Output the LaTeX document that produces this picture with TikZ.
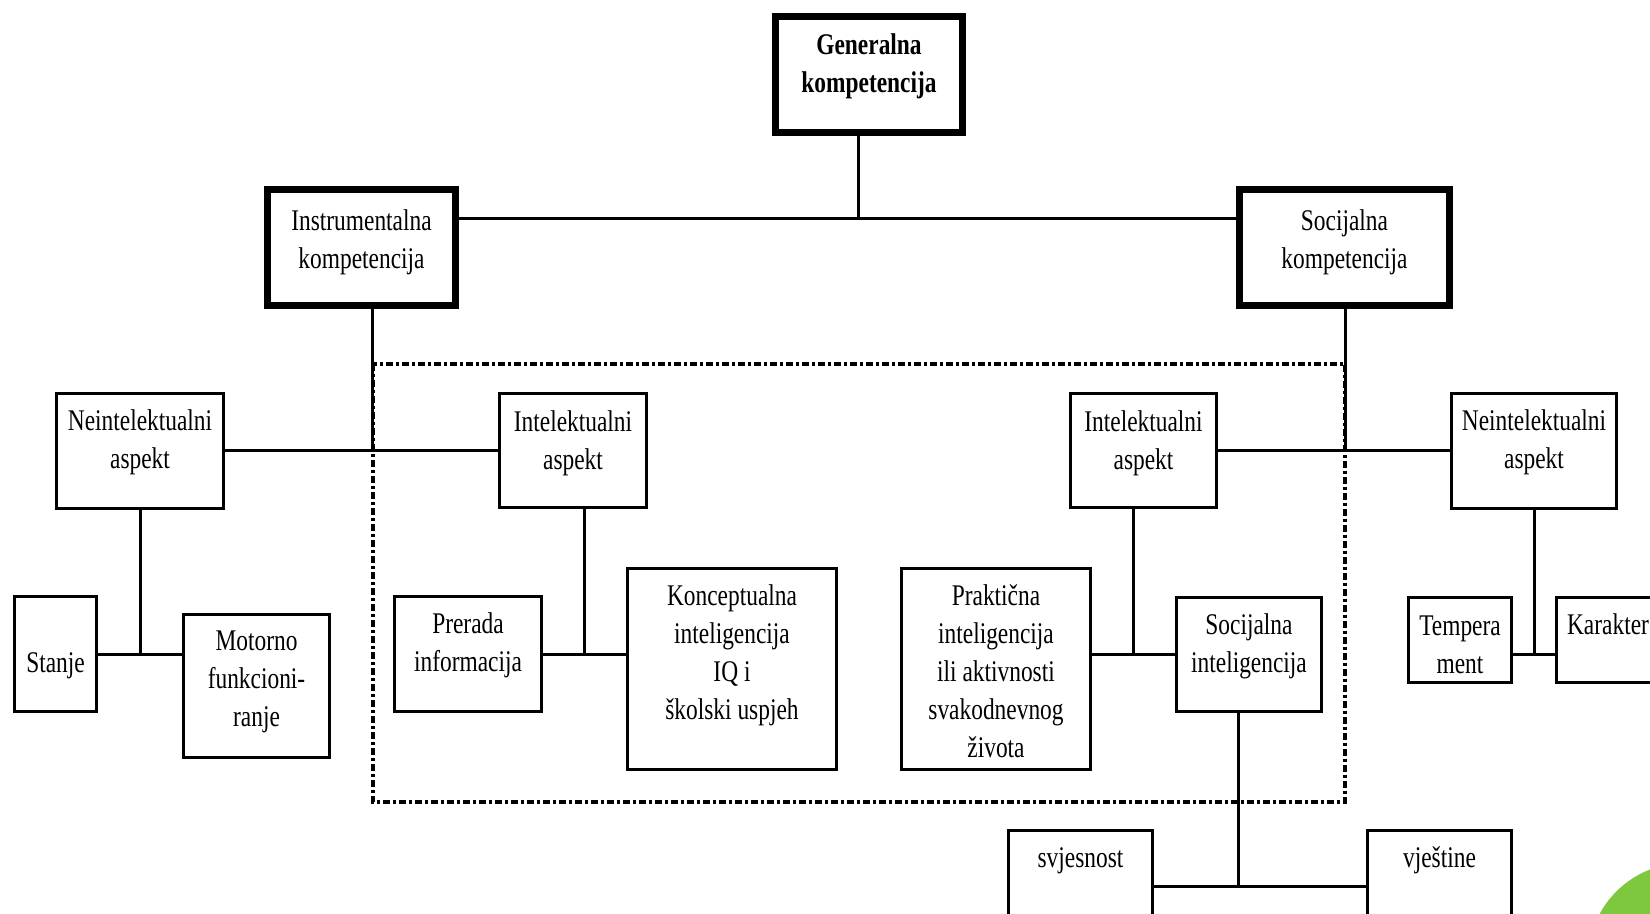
\documentclass[tikz,border=0pt]{standalone}
\usepackage{fontspec}
\setmainfont{Liberation Serif}[FakeStretch=0.78]
\usepackage{tikz}
\usetikzlibrary{calc}
\definecolor{leafgreen}{RGB}{125,200,60}
\tikzstyle{line} = [line width=1.5pt]
\tikzstyle{box} = [rectangle, draw=black, line width=1.5pt, inner sep=0pt]
\tikzstyle{topbox} = [rectangle, draw=black, line width=3.5pt, inner sep=0pt, minimum height=58pt]
\tikzstyle{txt} = [anchor=north, align=center, inner xsep=0pt, inner ysep=8.7pt, font=\fontsize{15}{19}\selectfont, execute at begin node=\strut]
\tikzstyle{onetxt} = [txt, inner ysep=5.6pt]
\tikzstyle{toptxt} = [txt, inner ysep=11.8pt]

\tikzstyle{frame} = [line width=2pt, dash pattern=on 3.5pt off 1.5pt on 1.5pt off 1.5pt]

\begin{document}
\begin{tikzpicture}[x=0.5pt, y=-0.5pt]
\useasboundingbox (0,0) rectangle (1650,914);
\clip (0,0) rectangle (1650,914);

% top level
\node(gen)[topbox, minimum width=93.5pt, label={[toptxt, inner ysep=9.9pt, font=\fontsize{15}{19}\selectfont\bfseries]north:Generalna\\kompetencija}] at (869,74.5) {};
\node(instr)[topbox, minimum width=94pt, label={[toptxt]north:Instrumentalna\\kompetencija}] at (361.5,247.5) {};
\node(soc)[topbox, minimum width=105pt, label={[toptxt]north:Socijalna\\kompetencija}] at (1344.5,247.5) {};

% aspects
\node(neintL)[box, minimum width=83.5pt, minimum height=57.5pt, label={[txt]north:Neintelektualni\\aspekt}] at (140,451) {};
\node(intL)[box, minimum width=73.5pt, minimum height=57pt, label={[txt]north:Intelektualni\\aspekt}] at (573,451) {};
\node(intR)[box, minimum width=73pt, minimum height=57pt, label={[txt]north:Intelektualni\\aspekt}] at (1143.5,451) {};
\node(neintR)[box, minimum width=82.5pt, minimum height=57.5pt, label={[txt]north:Neintelektualni\\aspekt}] at (1534,451) {};

% lower row
\node(stanje)[box, minimum width=41pt, minimum height=57.5pt, label={[onetxt, inner ysep=25pt]north:Stanje}] at (55.5,654) {};
\node(motorno)[box, minimum width=73pt, minimum height=71.5pt, label={[txt]north:Motorno\\funkcioni-\\ranje}] at (256.5,686) {};
\node(prerada)[box, minimum width=73.5pt, minimum height=57.5pt, label={[txt]north:Prerada\\informacija}] at (468,654) {};
\node(konc)[box, minimum width=104.5pt, minimum height=100.5pt, label={[txt]north:Konceptualna\\inteligencija\\IQ i\\školski uspjeh}] at (732,669) {};
\node(prakt)[box, minimum width=94.5pt, minimum height=100.5pt, label={[txt]north:Praktična\\inteligencija\\ili aktivnosti\\svakodnevnog\\života}] at (996,669) {};
\node(socint)[box, minimum width=72.5pt, minimum height=57pt, label={[txt]north:Socijalna\\inteligencija}] at (1249,654.5) {};
\node(temp)[box, minimum width=51.5pt, minimum height=42.5pt, label={[txt, inner ysep=9.8pt]north:Tempera\\ment}] at (1460,640) {};
\node(kar)[box, minimum width=51.5pt, minimum height=42.5pt, label={[onetxt]north:Karakter}] at (1608,640) {};
\node(svj)[box, minimum width=72pt, minimum height=57pt, label={[onetxt]north:svjesnost}] at (1080.5,887.5) {};
\node(vje)[box, minimum width=72pt, minimum height=57pt, label={[onetxt]north:vještine}] at (1439.5,887.5) {};

% dash-dot frame round the intellectual part
\draw[frame] (373,364) rectangle (1345,802);

% junctions
\coordinate (jtop) at (858,219);
\coordinate (jl) at (372,451);
\coordinate (jr) at (1345,451);
\coordinate (ja) at (140,654);
\coordinate (jb) at (584,654);
\coordinate (jc) at (1133,654);
\coordinate (jd) at (1534,654);
\coordinate (je) at (1238,886);

\draw[line] (gen.south -| jtop) -- (jtop);
\draw[line] (instr.east |- jtop) -- (soc.west |- jtop);
\draw[line] (instr.south -| jl) -- (jl);
\draw[line] (soc.south -| jr) -- (jr);
\draw[line] (neintL) -- (intL);
\draw[line] (intR) -- (neintR);

\draw[line] (neintL) -- (ja);
\draw[line] (stanje) -- (stanje -| motorno.west);
\draw[line] (intL.south -| jb) -- (jb);
\draw[line] (prerada) -- (prerada -| konc.west);
\draw[line] (intR.south -| jc) -- (jc);
\draw[line] (socint) -- (socint -| prakt.east);
\draw[line] (neintR) -- (jd);
\draw[line] (temp.east |- jd) -- (kar.west |- jd);
\draw[line] (socint.south -| je) -- (je);
\draw[line] (svj.east |- je) -- (vje.west |- je);

\fill[leafgreen] (1685,960) circle (48.5pt);
\end{tikzpicture}
\end{document}
